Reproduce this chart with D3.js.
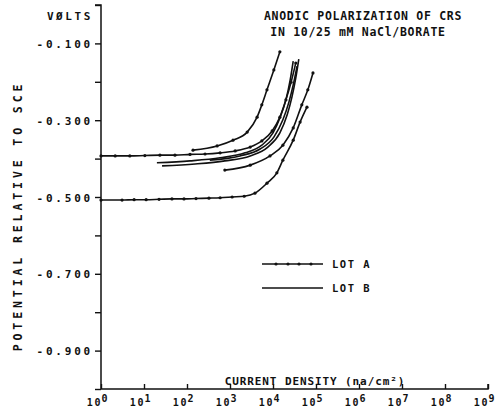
<!DOCTYPE html>
<html><head><meta charset="utf-8">
<script src="https://cdn.jsdelivr.net/npm/d3@7"></script>
<style>
html,body{margin:0;padding:0;background:#fff;}
text{font-family:"DejaVu Sans Mono",monospace;font-weight:bold;fill:#111;}
</style></head>
<body><svg id="c" width="501" height="408"></svg>
<script>
// ---- data (log10 current in na/cm^2, potential in volts vs SCE) ----
const decadeTicks = [0,1,2,3,4,5,6,7,8,9];
const voltTicks = [0,-0.1,-0.2,-0.3,-0.4,-0.5,-0.6,-0.7,-0.8,-0.9,-1.0];
const voltLabels = ["-0.100","-0.300","-0.500","-0.700","-0.900"];
const voltLabelValues = [-0.1,-0.3,-0.5,-0.7,-0.9];

const lotA1_logI = [0,0.33,0.67,1.02,1.37,1.72,2.07,2.42,2.77,3.12,3.47,3.74,3.98,4.16,4.30,4.42,4.53];
const lotA1_V    = [-0.393,-0.393,-0.393,-0.392,-0.391,-0.391,-0.389,-0.388,-0.385,-0.380,-0.370,-0.354,-0.328,-0.292,-0.247,-0.201,-0.151];
const lotA2_logI = [0,0.49,0.77,1.05,1.35,1.65,1.93,2.21,2.51,2.77,3.05,3.33,3.58,3.86,4.09,4.23,4.47,4.63,4.79];
const lotA2_V    = [-0.508,-0.508,-0.507,-0.507,-0.506,-0.505,-0.505,-0.504,-0.503,-0.502,-0.500,-0.498,-0.490,-0.464,-0.437,-0.404,-0.352,-0.305,-0.266];
const lotA3_logI = [2.14,2.70,3.07,3.40,3.63,3.74,3.86,4.02,4.16];
const lotA3_V    = [-0.378,-0.367,-0.352,-0.331,-0.292,-0.260,-0.221,-0.169,-0.122];
const lotA4_logI = [2.88,3.47,3.93,4.23,4.47,4.67,4.81,4.93];
const lotA4_V    = [-0.430,-0.417,-0.393,-0.365,-0.320,-0.260,-0.221,-0.177];

const lotB1_logI = [1.30,2.07,2.77,3.35,3.74,4.00,4.16,4.30,4.40,4.47];
const lotB1_V    = [-0.411,-0.406,-0.398,-0.385,-0.365,-0.333,-0.294,-0.247,-0.195,-0.146];
const lotB2_logI = [1.42,2.19,2.88,3.47,3.88,4.16,4.33,4.44,4.53,4.60];
const lotB2_V    = [-0.419,-0.414,-0.406,-0.393,-0.370,-0.333,-0.286,-0.240,-0.190,-0.141];
const lotB3_logI = [2.53,3.23,3.70,4.02,4.23,4.37,4.47,4.56];
const lotB3_V    = [-0.404,-0.393,-0.375,-0.344,-0.299,-0.253,-0.208,-0.159];

const lotACurves = [[lotA1_logI,lotA1_V],[lotA2_logI,lotA2_V],[lotA3_logI,lotA3_V],[lotA4_logI,lotA4_V]];
const lotBCurves = [[lotB1_logI,lotB1_V],[lotB2_logI,lotB2_V],[lotB3_logI,lotB3_V]];

// ---- layout ----
const svg = d3.select("#c");
svg.append("rect").attr("width",501).attr("height",408).attr("fill","#fff");
const x = d3.scaleLog().domain([1,1e9]).range([101,488]);
const y = d3.scaleLinear().domain([0,-1.0]).range([5,389]);

const toPts = (c) => c[0].map((e,i)=>[Math.pow(10,e), c[1][i]]);
const line = d3.line().x(d=>x(d[0])).y(d=>y(d[1])).curve(d3.curveMonotoneX);

// y axis
const yAxis = d3.axisLeft(y).tickValues(voltTicks).tickSize(6).tickFormat("");
const gy = svg.append("g").attr("transform","translate(101,0)").call(yAxis);
gy.select(".domain").attr("d","M-6,5H0V389").attr("stroke","#111").attr("stroke-width",1.5).attr("fill","none");
gy.selectAll(".tick line").attr("stroke","#111").attr("stroke-width",1.4);

svg.append("g").selectAll("text").data(voltLabelValues).join("text")
  .attr("x",93).attr("y",d=>y(d)+4.5)
  .attr("text-anchor","end").style("font-size","11px").style("letter-spacing","2.8px")
  .text((d,i)=>voltLabels[i]);

svg.append("text").attr("x",93).attr("y",20).attr("text-anchor","end")
  .style("font-size","11px").style("letter-spacing","2.6px").text("VØLTS");

svg.append("text").attr("transform","translate(22,216) rotate(-90)")
  .attr("text-anchor","middle").style("font-size","11.5px").style("letter-spacing","3.9px")
  .text("POTENTIAL RELATIVE TO SCE");

// x axis
const xAxis = d3.axisTop(x).tickValues(decadeTicks.map(e=>Math.pow(10,e))).tickSize(5).tickFormat("");
const gx = svg.append("g").attr("transform","translate(0,389)").call(xAxis);
gx.select(".domain").attr("d","M101,0H488V-5").attr("stroke","#111").attr("stroke-width",1.5).attr("fill","none");
gx.selectAll(".tick line").attr("stroke","#111").attr("stroke-width",1.4);

const xl = svg.append("g").selectAll("text").data(decadeTicks).join("text")
  .attr("x",d=>x(Math.pow(10,d))-3).attr("y",406).attr("text-anchor","middle")
  .style("font-size","10px").style("letter-spacing","1.8px");
xl.append("tspan").text("10");
xl.append("tspan").attr("dy",-4).attr("dx",-1).text(d=>String(d));

svg.append("text").attr("x",315).attr("y",385).attr("text-anchor","middle")
  .style("font-size","11px").style("letter-spacing","0.9px").text("CURRENT DENSITY (na/cm²)");

// title
svg.append("text").attr("x",363).attr("y",20).attr("text-anchor","middle")
  .style("font-size","11.5px").style("letter-spacing","0.7px").text("ANODIC POLARIZATION OF CRS");
svg.append("text").attr("x",358).attr("y",36).attr("text-anchor","middle")
  .style("font-size","11.5px").style("letter-spacing","0.7px").text("IN 10/25 mM NaCl/BORATE");

// curves
const plot = svg.append("g");
lotBCurves.forEach(c=>{
  plot.append("path").attr("d",line(toPts(c))).attr("fill","none").attr("stroke","#111").attr("stroke-width",1.6);
});
lotACurves.forEach(c=>{
  const pts = toPts(c);
  plot.append("path").attr("d",line(pts)).attr("fill","none").attr("stroke","#111").attr("stroke-width",1.6);
  plot.append("g").selectAll("circle").data(pts).join("circle")
    .attr("cx",d=>x(d[0])).attr("cy",d=>y(d[1])).attr("r",1.6).attr("fill","#111");
});

// legend
const lg = svg.append("g");
lg.append("line").attr("x1",262).attr("x2",323).attr("y1",264).attr("y2",264).attr("stroke","#111").attr("stroke-width",1.6);
lg.selectAll("circle").data([276,288,299,311]).join("circle").attr("cx",d=>d).attr("cy",264).attr("r",1.6).attr("fill","#111");
lg.append("text").attr("x",332).attr("y",268).style("font-size","10.5px").style("letter-spacing","1.5px").text("LOT A");
lg.append("line").attr("x1",262).attr("x2",323).attr("y1",288).attr("y2",288).attr("stroke","#111").attr("stroke-width",1.6);
lg.append("text").attr("x",332).attr("y",292).style("font-size","10.5px").style("letter-spacing","1.5px").text("LOT B");
</script></body></html>
